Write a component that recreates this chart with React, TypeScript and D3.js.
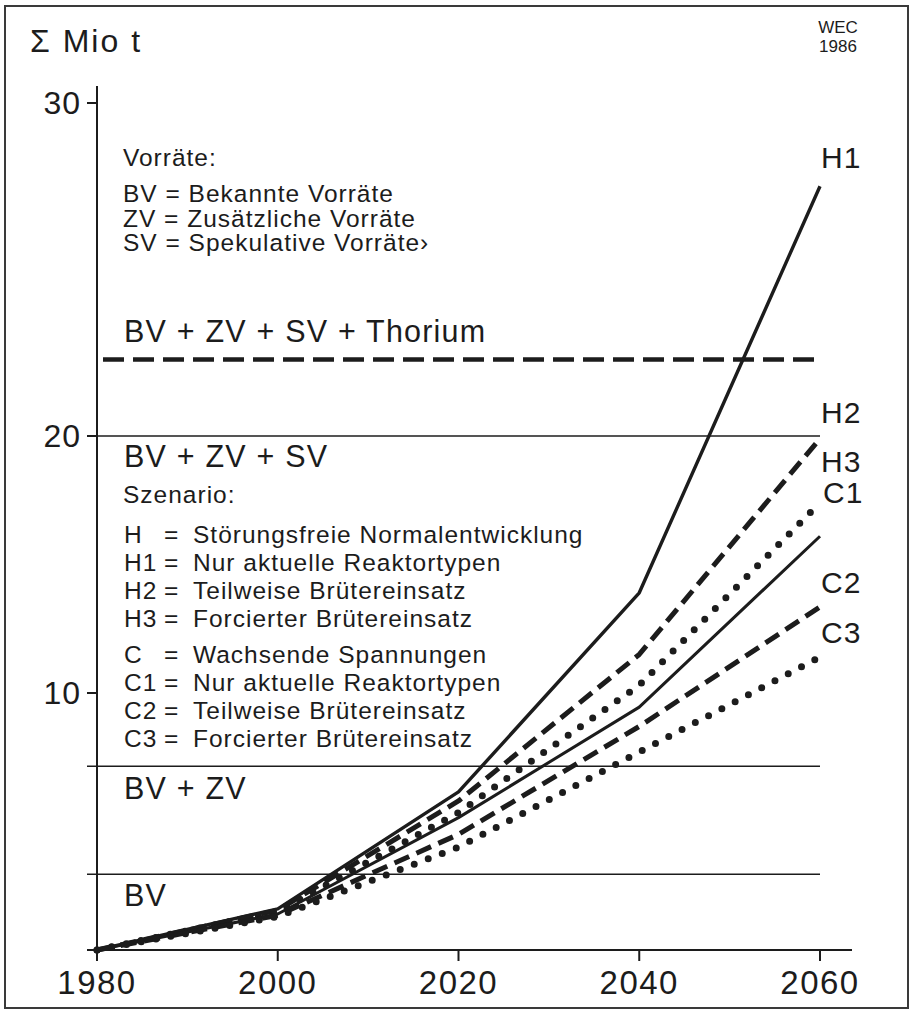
import React from "react";
import * as d3 from "d3";

const years = [1980, 2000, 2020, 2040, 2060];
const yTicks = [0, 10, 20, 30];
const xTicks = [1980, 2000, 2020, 2040, 2060];

const H1 = [0, 1.6, 6.15, 13.9, 27.5];
const H2 = [0, 1.55, 5.8, 11.5, 19.9];
const H3 = [0, 1.5, 5.35, 10.3, 17.4];
const C1 = [0, 1.4, 5.15, 9.45, 16.1];
const C2 = [0, 1.35, 4.5, 8.7, 13.35];
const C3 = [0, 1.3, 4.0, 7.7, 11.4];

const seriesNames = ["H1", "H2", "H3", "C1", "C2", "C3"];
const seriesStyles = ["solid", "dashed", "dotted", "solid", "dashed", "dotted"];

const reserveNames = ["BV", "BV + ZV", "BV + ZV + SV", "BV + ZV + SV + Thorium"];
const reserveValues = [2.95, 7.15, 20, 22.3];

const legendVorraete = [
  "BV = Bekannte Vorräte",
  "ZV = Zusätzliche Vorräte",
  "SV = Spekulative Vorräte›",
];
const scenarioKeys = ["H", "H1", "H2", "H3", "C", "C1", "C2", "C3"];
const scenarioDescs = [
  "Störungsfreie Normalentwicklung",
  "Nur aktuelle Reaktortypen",
  "Teilweise Brütereinsatz",
  "Forcierter Brütereinsatz",
  "Wachsende Spannungen",
  "Nur aktuelle Reaktortypen",
  "Teilweise Brütereinsatz",
  "Forcierter Brütereinsatz",
];

const FONT = "'Liberation Sans', Arial, Helvetica, sans-serif";
const INK = "#1c1c1c";

export default function App() {
  const x = d3.scaleLinear().domain([1980, 2060]).range([97, 820]);
  const y = d3.scaleLinear().domain([0, 10, 20, 30]).range([950, 693, 436, 103]);
  const seriesValues = [H1, H2, H3, C1, C2, C3];
  const line = d3
    .line<number>()
    .x((_, i) => x(years[i]))
    .y((v) => y(v));

  const styleFor = (s: string, name: string) => {
    if (s === "solid")
      return { strokeWidth: name === "H1" ? 3.4 : 3, strokeDasharray: undefined, strokeLinecap: "butt" as const };
    if (s === "dashed") return { strokeWidth: 5, strokeDasharray: "16 8", strokeLinecap: "butt" as const };
    return { strokeWidth: 7, strokeDasharray: "0 15", strokeLinecap: "round" as const };
  };

  const endLabelY: Record<string, number> = { H1: 168, H2: 423, H3: 472, C1: 503, C2: 593, C3: 643 };
  const endLabelX: Record<string, number> = { H1: 821, H2: 821, H3: 821, C1: 823, C2: 821, C3: 821 };

  const scenarioY = [543, 571, 599, 627, 663, 691, 719, 747];
  const LFS = 24.5;
  const LLS = 1.0;

  return (
    <svg width={914} height={1010} style={{ display: "block", position: "absolute", left: 0, top: 0, background: "#fff" }}>
      <rect x={0} y={0} width={914} height={1010} fill="#fff" />
      <rect x={5} y={6} width={903} height={1002} fill="none" stroke="#3a3a3a" strokeWidth={2} />

      {/* title */}
      <text x={30} y={52} fontFamily={FONT} fontSize={32} letterSpacing={2} fill={INK}>Σ Mio t</text>
      <text x={838} y={33} fontFamily={FONT} fontSize={17} textAnchor="middle" fill={INK}>WEC</text>
      <text x={838} y={52} fontFamily={FONT} fontSize={17} textAnchor="middle" fill={INK}>1986</text>

      {/* reserve lines */}
      {reserveValues.map((v, i) =>
        i === 3 ? (
          <line key={i} x1={103} x2={x(2060)} y1={y(v)} y2={y(v)} stroke={INK} strokeWidth={4.5} strokeDasharray="21 9" />
        ) : (
          <line key={i} x1={87} x2={x(2060)} y1={y(v)} y2={y(v)} stroke={INK} strokeWidth={1.6} />
        )
      )}

      {/* axes */}
      <line x1={x(1980)} x2={x(1980)} y1={86} y2={961} stroke={INK} strokeWidth={2} />
      <line x1={87} x2={852} y1={y(0)} y2={y(0)} stroke={INK} strokeWidth={2} />
      {xTicks.map((t) => (
        <g key={t}>
          <line x1={x(t)} x2={x(t)} y1={y(0)} y2={961} stroke={INK} strokeWidth={2} />
          <text x={x(t)} y={994} fontFamily={FONT} fontSize={33} letterSpacing={1.5} textAnchor="middle" fill={INK}>{t}</text>
        </g>
      ))}
      {yTicks.map((t) => (
        <g key={t}>
          {t > 0 && <line x1={87} x2={x(1980)} y1={y(t)} y2={y(t)} stroke={INK} strokeWidth={2} />}
          {t > 0 && (
            <text x={81} y={y(t) + 11} fontFamily={FONT} fontSize={32} letterSpacing={1} textAnchor="end" fill={INK}>{t}</text>
          )}
        </g>
      ))}

      {/* reserve labels */}
      <text x={124} y={342} fontFamily={FONT} fontSize={30.5} letterSpacing={1.2} fill={INK}>{reserveNames[3]}</text>
      <text x={124} y={467} fontFamily={FONT} fontSize={30.5} letterSpacing={1.2} fill={INK}>{reserveNames[2]}</text>
      <text x={124} y={799} fontFamily={FONT} fontSize={30.5} letterSpacing={1.2} fill={INK}>{reserveNames[1]}</text>
      <text x={124} y={906} fontFamily={FONT} fontSize={30.5} letterSpacing={1.2} fill={INK}>{reserveNames[0]}</text>

      {/* legend: Vorräte */}
      <text x={123} y={166} fontFamily={FONT} fontSize={LFS} letterSpacing={LLS} fill={INK}>Vorräte:</text>
      {legendVorraete.map((s, i) => (
        <text key={s} x={123} y={202 + i * 24.5} fontFamily={FONT} fontSize={LFS} letterSpacing={LLS} fill={INK}>{s}</text>
      ))}

      {/* legend: Szenario */}
      <text x={123} y={503} fontFamily={FONT} fontSize={LFS} letterSpacing={LLS} fill={INK}>Szenario:</text>
      {scenarioKeys.map((k, i) => (
        <g key={i} fontFamily={FONT} fontSize={LFS} letterSpacing={LLS} fill={INK}>
          <text x={124} y={scenarioY[i]}>{k}</text>
          <text x={164} y={scenarioY[i]}>=</text>
          <text x={193} y={scenarioY[i]}>{scenarioDescs[i]}</text>
        </g>
      ))}

      {/* series */}
      {seriesValues.map((vals, i) => {
        const st = styleFor(seriesStyles[i], seriesNames[i]);
        return (
          <path
            key={seriesNames[i]}
            d={line(vals) || ""}
            fill="none"
            stroke={INK}
            strokeWidth={st.strokeWidth}
            strokeDasharray={st.strokeDasharray}
            strokeLinecap={st.strokeLinecap}
            strokeLinejoin="round"
          />
        );
      })}

      {/* end labels */}
      {seriesNames.map((n) => (
        <text key={n} x={endLabelX[n]} y={endLabelY[n]} fontFamily={FONT} fontSize={30} letterSpacing={1} fill={INK}>{n}</text>
      ))}
    </svg>
  );
}
